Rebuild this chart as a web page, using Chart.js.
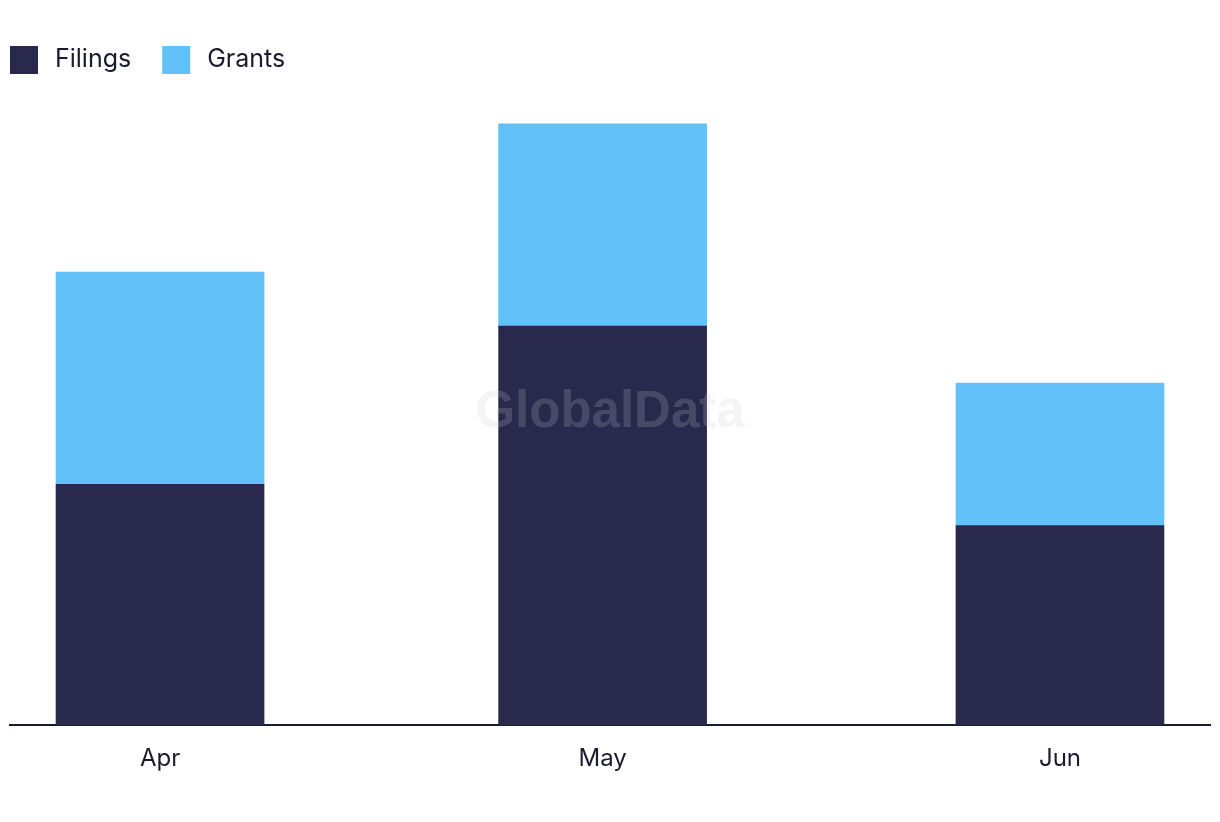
<!DOCTYPE html>
<html>
<head>
<meta charset="utf-8">
<title>Filings and Grants</title>
<script src="https://cdn.jsdelivr.net/npm/chart.js@4/dist/chart.umd.min.js"></script>
<style>
  html, body { margin: 0; padding: 0; background: #ffffff; }
  #wrap { position: relative; width: 1220px; height: 822px; }
</style>
</head>
<body>
<div id="wrap"><canvas id="chart"></canvas></div>
<script>
  // months sit on a day-based axis (Apr 1 = day 0)
  const months = ['Apr', 'May', 'Jun'];
  const monthDays = [0, 30, 61];
  const filings = [16.9, 28, 14];
  const grants = [14.9, 14.2, 10];

  const ink = '#1b1b2f';
  const navy = '#28294d';
  const sky = '#62c1f9';

  // Simple legend drawn at the top-left (box, gap, label)
  const topLegend = {
    id: 'topLegend',
    afterDraw(chart) {
      const { ctx } = chart;
      ctx.save();
      ctx.font = '25px Inter, sans-serif';
      ctx.textBaseline = 'middle';
      let x = 10;
      chart.data.datasets.forEach((ds) => {
        ctx.fillStyle = ds.backgroundColor;
        ctx.fillRect(x, 46, 28, 28);
        ctx.fillStyle = ink;
        ctx.fillText(ds.label, x + 45, 59);
        x += 45 + ctx.measureText(ds.label).width + 31;
      });
      ctx.restore();
    }
  };

  // Watermark in the middle of the plot
  const watermark = {
    id: 'watermark',
    afterDatasetsDraw(chart) {
      const { ctx, chartArea } = chart;
      ctx.save();
      ctx.font = 'bold 51px "Liberation Sans", Arial, sans-serif';
      ctx.textAlign = 'center';
      ctx.textBaseline = 'middle';
      ctx.fillStyle = 'rgba(200, 200, 212, 0.2)';
      ctx.fillText('GlobalData', (chartArea.left + chartArea.right) / 2, 413);
      ctx.restore();
    }
  };

  const toPoints = (vals) => vals.map((v, i) => ({ x: monthDays[i], y: v }));

  new Chart(document.getElementById('chart'), {
    type: 'bar',
    data: {
      datasets: [
        { label: 'Filings', data: toPoints(filings), backgroundColor: navy },
        { label: 'Grants', data: toPoints(grants), backgroundColor: sky }
      ]
    },
    options: {
      responsive: true,
      maintainAspectRatio: false,
      animation: false,
      barThickness: 208,
      layout: { padding: { left: 10, right: 10, top: 100, bottom: 38 } },
      plugins: {
        legend: { display: false },
        tooltip: { enabled: false }
      },
      scales: {
        x: {
          type: 'linear',
          stacked: true,
          offset: false,
          min: -10.17,
          max: 71.17,
          grid: { display: false },
          border: { display: true, color: ink, width: 2 },
          afterBuildTicks: (scale) => {
            scale.ticks = monthDays.map((d) => ({ value: d }));
          },
          ticks: {
            color: ink,
            padding: 11,
            maxRotation: 0,
            font: { family: 'Inter', size: 24 },
            callback: (value) => months[monthDays.indexOf(value)]
          }
        },
        y: {
          stacked: true,
          display: false,
          min: 0,
          max: 43.87
        }
      }
    },
    plugins: [watermark, topLegend]
  });
</script>
</body>
</html>
